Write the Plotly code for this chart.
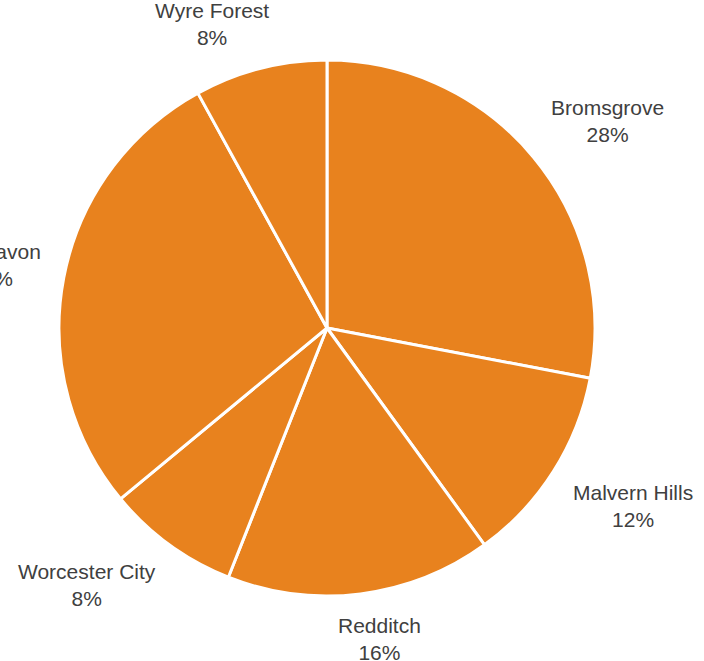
import math
import plotly.graph_objects as go

districts = ["Bromsgrove", "Malvern Hills", "Redditch", "Worcester City", "Wychavon", "Wyre Forest"]
shares = [28, 12, 16, 8, 28, 8]
pct_labels = ["28%", "12%", "16%", "8%", "28%", "8%"]

W, H = 704, 661
CX, CY, R = 327, 328, 268
FONT = 21
COLOR = "#E8821E"
TEXT = "#404040"

fig = go.Figure(go.Pie(
    labels=districts, values=shares, sort=False, direction="clockwise", rotation=0,
    marker=dict(colors=[COLOR] * len(shares), line=dict(color="white", width=3)),
    textinfo="none", hoverinfo="label+percent", showlegend=False,
    domain=dict(x=[(CX - R) / W, (CX + R) / W], y=[1 - (CY + R) / H, 1 - (CY - R) / H]),
))

# approximate Arial glyph widths (em) for label box sizing
widths = {'B': .667, 'r': .333, 'o': .556, 'm': .833, 's': .5, 'g': .556, 'v': .5, 'e': .556,
          'M': .833, 'a': .556, 'l': .222, 'n': .556, ' ': .278, 'H': .722, 'i': .222,
          'R': .722, 'd': .556, 't': .278, 'c': .5, 'h': .556, 'W': .944, 'C': .722, 'y': .5,
          'F': .611}

total = sum(shares)
cum = 0
gap = 23
box_h = 44
for name, v, p in zip(districts, shares, pct_labels):
    mid = (cum + v / 2) / total * 2 * math.pi
    cum += v
    s, c = math.sin(mid), math.cos(mid)
    w = sum(widths.get(ch, .556) for ch in name) * FONT
    ex = CX + (R + gap) * s
    ey = CY - (R + gap) * c
    bx = ex + math.copysign(w / 2 * min(1, abs(s) * 3), s)
    by = ey - math.copysign(box_h / 2 * min(1, abs(c) * 2), c)
    fig.add_annotation(
        x=bx / W, y=1 - by / H, xref="paper", yref="paper",
        text=f"{name}<br>{p}", showarrow=False, xanchor="center", yanchor="middle",
        font=dict(family="Liberation Sans, Arial, sans-serif", size=FONT, color=TEXT),
        align="center",
    )

fig.update_layout(
    width=W, height=H, margin=dict(l=0, r=0, t=0, b=0),
    paper_bgcolor="white", plot_bgcolor="white",
)
fig.write_html("out.html")
